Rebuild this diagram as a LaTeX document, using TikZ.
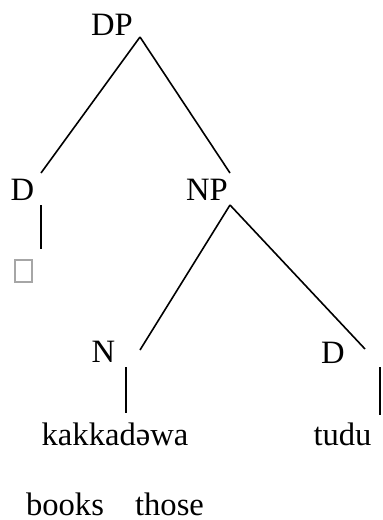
\documentclass[tikz,border=0pt]{standalone}
\usepackage{fontspec}
\setmainfont{Liberation Serif}
\usepackage{tikz}

\begin{document}
\begin{tikzpicture}[
        x=0.5pt, y=-0.5pt,
        lbl/.style={anchor=base, inner sep=0pt, font=\fontsize{16.3}{19}\selectfont},
        branch/.style={line width=0.8pt}
    ]
    \useasboundingbox (0,0) rectangle (383,520);

    % Labels
    \node[lbl] (DP) at (112,35) {DP};
    \node[lbl] (Dl) at (22.5,200) {D};
    \node[lbl] (NP) at (207,200) {NP};
    \node[lbl] (N) at (103.5,362) {N};
    \node[lbl] (Dr) at (333,363) {D};
    \node[lbl] (kakk) at (115,445) {kakkadəwa};
    \node[lbl] (tudu) at (342.5,445) {tudu};
    \node[lbl] (books) at (65,515) {books};
    \node[lbl] (those) at (169.5,515) {those};

    % Empty D
    \node[draw=gray!70, line width=0.6pt, minimum width=8.5pt, minimum height=11pt, inner sep=0pt] (empty) at (23.5,271) {};

    % DP branches
    \draw[branch] ([shift={(28,2)}]DP.base) -- ([shift={(18.5,-27)}]Dl.base);
    \draw[branch] ([shift={(28,2)}]DP.base) -- ([shift={(23,-27)}]NP.base);
    \draw[branch] ([shift={(18.5,5)}]Dl.base) -- ([shift={(17.5,-10)}]empty.north);

    % NP branches
    \draw[branch] ([shift={(23,5)}]NP.base) -- ([shift={(36.5,-12)}]N.base);
    \draw[branch] ([shift={(23,5)}]NP.base) -- ([shift={(32,-14)}]Dr.base);
    \draw[branch] ([shift={(22.5,5)}]N.base) -- ([shift={(11,-32)}]kakk.base);
    \draw[branch] ([shift={(47,4)}]Dr.base) -- ([shift={(37.5,-30)}]tudu.base);
\end{tikzpicture}
\end{document}
